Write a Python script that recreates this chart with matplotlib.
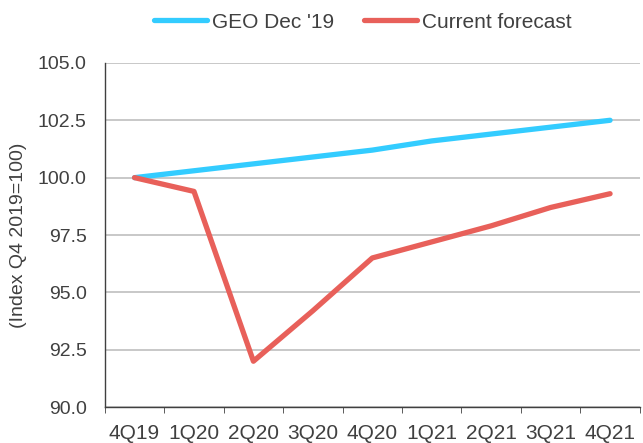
import numpy as np
import matplotlib.pyplot as plt

plt.rcParams['font.family'] = ['Liberation Sans', 'DejaVu Sans']

quarters = ['4Q19', '1Q20', '2Q20', '3Q20', '4Q20', '1Q21', '2Q21', '3Q21', '4Q21']
geo_dec19 = [100.0, 100.3, 100.6, 100.9, 101.2, 101.6, 101.9, 102.2, 102.5]
current = [100.0, 99.4, 92.0, 94.2, 96.5, 97.2, 97.9, 98.7, 99.3]

text_col = '#404040'

fig = plt.figure(figsize=(6.43, 4.43), dpi=100)
ax = fig.add_axes([0.163, 0.081, 0.832, 0.777])

x = np.arange(len(quarters))
ax.plot(x, geo_dec19, color='#33CCFF', lw=3.8, solid_capstyle='round', label="GEO Dec '19")
ax.plot(x, current, color='#E8605A', lw=3.8, solid_capstyle='round', label='Current forecast')

yt = np.arange(90, 105.1, 2.5)
ax.set_ylim(90, 105)
ax.set_yticks(yt)
ax.set_yticklabels([f'{v:.1f}' for v in yt])
ax.set_xlim(-0.5, len(quarters) - 0.5)
ax.set_xticks(x)
ax.set_xticklabels(quarters)
ax.set_xticks(np.arange(-0.5, len(quarters)), minor=True)
ax.tick_params(axis='x', which='major', length=0, pad=12, labelsize=15, labelcolor=text_col)
ax.tick_params(axis='x', which='minor', length=4.5, color=text_col, direction='out')
ax.tick_params(axis='y', length=0, pad=13, labelsize=14, labelcolor=text_col)

ax.grid(axis='y', color='#BFBFBF', lw=1.2)
ax.set_axisbelow(True)
for s in ['top', 'right']:
    ax.spines[s].set_visible(False)
for s in ['left', 'bottom']:
    ax.spines[s].set_color(text_col)
    ax.spines[s].set_linewidth(1)

ax.set_ylabel('(Index Q4 2019=100)', fontsize=14, color=text_col, labelpad=8)

fig.legend(loc='center', bbox_to_anchor=(0.564, 0.95), ncol=2, frameon=False,
           fontsize=15, labelcolor=text_col, handlelength=2.55, handletextpad=0.24,
           columnspacing=1.44)

fig.savefig('out.png', dpi=100)
